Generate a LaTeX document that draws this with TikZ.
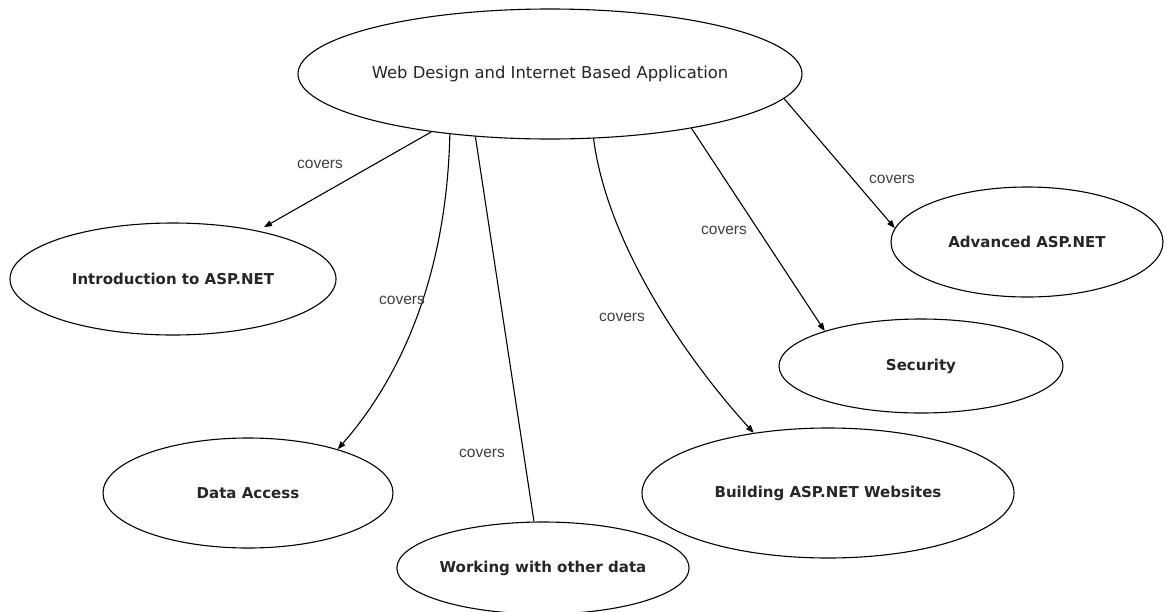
\documentclass[tikz,border=0pt]{standalone}
\usepackage{fontspec}
\setmainfont{DejaVu Sans}
\newfontfamily\coversfont{Liberation Sans}
\usetikzlibrary{shapes.geometric,arrows.meta}

\begin{document}
\begin{tikzpicture}[
    x=1pt, y=-1pt,
    >={Triangle[length=8pt,width=6pt]},
    line width=1.1pt,
    topic/.style={
        ellipse,
        draw,
        inner sep=0pt,
        font=\fontsize{15}{18}\selectfont\bfseries,
        text=black!85
    },
    rel/.style={
        font=\coversfont\fontsize{15.5}{18}\selectfont,
        text=black!75
    }
]
\useasboundingbox[fill=white] (0,0) rectangle (1167,611);

\node[topic, minimum width=410pt, minimum height=130pt, font=\fontsize{16.4}{19}\selectfont] (web) at (550,74) {Web Design and Internet Based Application};

\node[topic, minimum width=326pt, minimum height=112pt] (intro) at (173,279) {Introduction to ASP.NET};
\node[topic, minimum width=290pt, minimum height=110pt] (data) at (248,493) {Data Access};
\node[topic, minimum width=283pt, minimum height=92pt] (work) at (543,568) {Working with other data};
\node[topic, minimum width=372pt, minimum height=130pt] (build) at (828,493) {Building ASP.NET Websites};
\node[topic, minimum width=284pt, minimum height=94pt] (sec) at (921,366) {Security};
\node[topic, minimum width=272pt, minimum height=110pt] (adv) at (1027,242) {Advanced ASP.NET};

\draw[->, shorten >=7pt] (web.206) -- (intro);
\draw[->] (web.211) .. controls +(-3,130) and +(70,-80) .. (data.26);
\draw (web.220) -- (work.101);
\draw[->] (web.-56) .. controls +(15,115) and +(-55,-60) .. (build.141);
\draw[->] (web.-21) -- (sec.160);
\draw[->] (web.-6) -- (adv.174);

\node[rel] (c-intro) at (320,164) {covers};
\node[rel] (c-data) at (402,300) {covers};
\node[rel] (c-work) at (482,453) {covers};
\node[rel] (c-build) at (622,317) {covers};
\node[rel] (c-sec) at (724,230) {covers};
\node[rel] (c-adv) at (892,179) {covers};

\end{tikzpicture}
\end{document}
